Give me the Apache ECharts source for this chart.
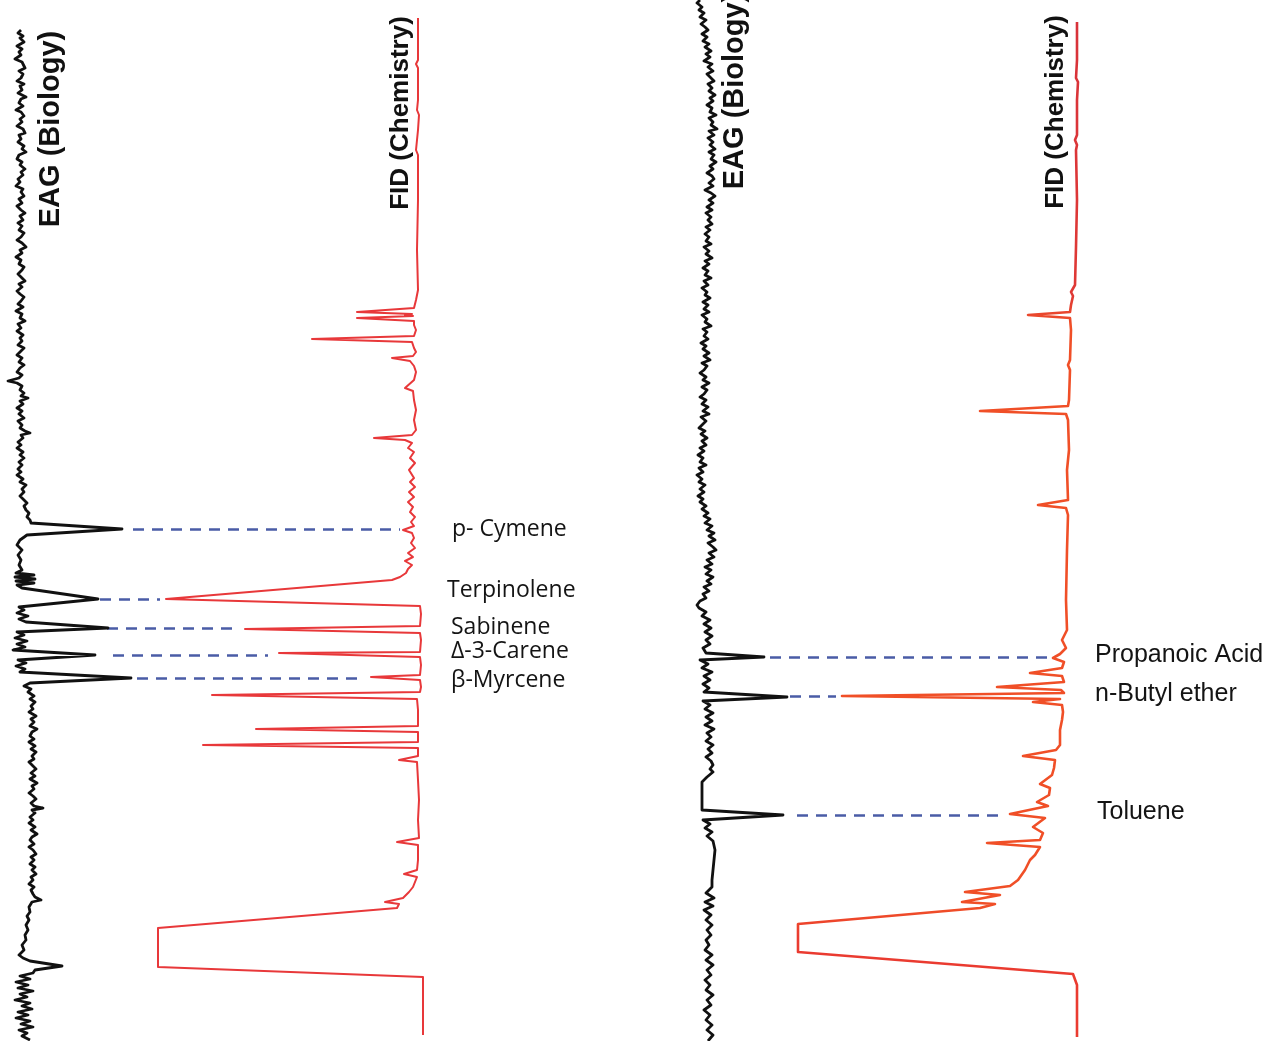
<!DOCTYPE html>
<html>
<head>
<meta charset="utf-8">
<title>GC-EAD</title>
<script src="https://cdn.jsdelivr.net/npm/echarts@6/dist/echarts.min.js"></script>
<style>
  html, body { margin: 0; padding: 0; background: #ffffff; }
  #chart { width: 1281px; height: 1041px; }
</style>
</head>
<body>
<div id="chart"></div>
<script>
// Each trace is a list of [signal, retentionTime] pairs; time runs down the page,
// signal deflections point sideways.

// Left run: antenna response (EAG)
const eagLeft = [
  [21,30],[18,33],[23,36],[20,38],[24,42],[17,46],[22,49],[19,52],[21,55],[15,59],
  [22,62],[20,64],[25,68],[19,71],[23,74],[21,78],[17,81],[24,84],[20,86],[22,90],
  [18,93],[26,97],[21,99],[19,103],[23,106],[16,110],[21,112],[24,116],[20,119],[22,122],
  [17,126],[23,129],[25,133],[19,135],[21,139],[18,142],[24,146],[22,149],[26,152],[19,155],
  [17,159],[22,162],[20,165],[25,169],[21,172],[23,175],[18,179],[20,182],[16,186],[23,189],
  [21,192],[24,196],[19,199],[22,203],[17,206],[21,210],[25,213],[20,216],[23,220],[18,223],
  [22,226],[19,230],[24,233],[21,237],[17,240],[22,243],[26,247],[20,250],[22,253],[16,257],
  [21,260],[19,264],[24,267],[22,270],[18,274],[21,277],[25,281],[19,284],[22,287],[17,291],
  [20,294],[24,297],[21,301],[18,304],[23,307],[16,311],[22,314],[20,318],[25,321],[18,324],
  [21,328],[17,331],[23,335],[20,338],[22,341],[18,345],[24,348],[21,351],[17,355],[22,358],
  [19,362],[24,365],[20,368],[17,372],[22,375],[19,378],[8,381],[17,383],[22,386],[20,390],
  [24,393],[21,396],[28,398],[20,401],[23,404],[17,408],[22,411],[19,414],[24,418],[18,421],
  [22,425],[20,428],[25,431],[30,433],[21,435],[23,438],[18,442],[21,445],[17,448],[23,452],
  [20,455],[24,458],[19,462],[22,465],[18,469],[21,472],[17,475],[23,479],[20,482],[26,485],
  [22,489],[24,492],[20,496],[23,499],[27,503],[24,506],[26,510],[29,513],[27,517],[30,520],
  [31,523],[122,529],[27,535],[20,540],[17,545],[22,550],[18,555],[21,560],[19,565],[22,570],
  [16,573],[34,575],[15,577],[35,579],[16,581],[34,583],[17,585],[22,588],[98,599],[19,607],
  [24,610],[17,613],[28,616],[19,619],[26,622],[24,624],[108,628],[17,632],[24,635],[15,638],
  [27,641],[17,644],[25,647],[13,650],[95,655],[18,660],[26,663],[16,666],[25,669],[20,672],
  [131,678],[30,683],[24,686],[31,689],[28,692],[34,696],[30,699],[35,702],[31,706],[33,709],
  [29,712],[36,716],[31,719],[34,722],[30,726],[37,729],[32,732],[30,736],[34,739],[29,742],
  [35,746],[31,749],[36,752],[32,756],[34,759],[29,762],[33,766],[36,769],[31,773],[35,776],
  [30,779],[37,783],[32,786],[34,789],[29,793],[33,796],[36,799],[31,803],[34,806],[43,808],
  [32,810],[35,813],[30,817],[33,820],[29,823],[35,827],[31,830],[37,834],[32,837],[30,840],
  [34,844],[29,847],[33,850],[36,854],[31,857],[34,860],[30,864],[35,867],[32,870],[36,874],
  [31,877],[33,880],[29,884],[34,887],[31,890],[33,894],[35,897],[41,900],[32,902],[29,907],
  [30,912],[27,916],[29,920],[26,925],[28,930],[25,935],[26,940],[22,945],[24,950],[19,955],
  [23,958],[30,961],[62,966],[35,970],[33,973],[20,976],[30,979],[16,982],[28,985],[18,988],
  [33,991],[20,994],[27,997],[15,1000],[30,1003],[22,1006],[32,1009],[18,1012],[28,1015],[16,1018],
  [30,1021],[21,1024],[33,1027],[19,1030],[27,1033],[22,1036],[30,1040]
];

// Left run: flame ionisation detector (FID)
const fidLeft = [
  [418,18],[418,60],[416,64],[418,68],[418,100],[417,110],[419,115],[418,130],[416,150],[418,155],
  [418,200],[417,250],[418,290],[416,300],[414,308],[357,312],[412,314],[405,315],[413,316],[357,318],
  [414,321],[414,325],[416,330],[414,336],[312,339],[412,342],[414,348],[416,352],[413,356],[392,358],
  [410,361],[414,366],[416,372],[414,380],[405,388],[413,391],[414,400],[416,410],[414,420],[416,430],
  [412,435],[374,438],[405,440],[412,443],[408,448],[414,452],[410,458],[415,463],[409,470],[414,478],
  [410,482],[415,487],[409,492],[414,497],[408,502],[413,507],[410,512],[415,517],[411,522],[414,526],
  [403,530],[412,533],[414,538],[411,543],[415,548],[408,553],[413,557],[405,561],[412,565],[408,569],
  [406,573],[400,577],[392,580],[166,599],[420,606],[421,614],[420,626],[245,629],[420,633],[421,640],
  [420,652],[279,653],[420,657],[421,665],[420,675],[371,677],[420,680],[421,687],[420,692],[212,695],
  [417,699],[418,710],[418,726],[256,729],[418,732],[418,742],[203,745],[418,748],[418,756],[399,760],
  [417,762],[418,780],[419,800],[418,820],[419,838],[397,842],[418,845],[418,860],[417,870],[404,874],
  [417,877],[413,887],[409,892],[403,898],[385,902],[399,904],[397,908],[158,928],[158,967],[423,977],
  [423,1035]
];

// Right run: antenna response (EAG)
const eagRight = [
  [700,0],[697,3],[702,7],[699,10],[704,13],[700,17],[706,20],[701,24],[705,27],[708,30],
  [702,34],[707,37],[703,41],[709,44],[705,47],[711,51],[706,54],[710,57],[704,61],[712,64],
  [708,67],[713,71],[707,74],[711,78],[714,81],[708,84],[712,88],[709,91],[715,95],[710,98],
  [713,101],[707,105],[712,108],[710,112],[716,115],[709,118],[713,122],[711,125],[717,129],[709,131],
  [714,135],[708,138],[713,142],[710,145],[715,149],[709,152],[714,155],[711,159],[716,162],[710,166],
  [713,169],[707,173],[712,176],[714,179],[709,183],[713,186],[705,190],[711,193],[715,196],[709,200],
  [713,203],[707,207],[712,210],[706,213],[711,217],[708,220],[712,224],[706,227],[710,230],[705,234],
  [709,237],[706,241],[711,244],[704,247],[709,251],[706,254],[712,258],[705,261],[709,264],[703,268],
  [708,271],[705,275],[711,278],[704,281],[708,285],[702,288],[707,292],[705,295],[710,298],[703,302],
  [708,305],[704,309],[709,312],[702,315],[707,319],[705,322],[711,326],[703,329],[707,332],[704,336],
  [708,339],[701,343],[706,346],[703,349],[709,353],[704,356],[710,360],[702,363],[707,366],[704,370],
  [700,373],[706,377],[703,380],[709,383],[702,387],[707,390],[704,394],[700,397],[706,400],[702,404],
  [708,407],[703,411],[709,414],[701,417],[706,421],[703,424],[699,428],[705,431],[701,434],[707,438],
  [702,441],[706,445],[700,448],[704,451],[698,455],[703,458],[700,462],[706,465],[699,468],[703,472],
  [697,475],[702,479],[699,482],[705,485],[700,489],[704,492],[698,496],[703,499],[700,502],[706,506],
  [702,509],[708,513],[704,516],[710,519],[705,523],[712,526],[707,530],[714,533],[709,536],[715,540],
  [708,543],[713,547],[716,550],[709,553],[714,557],[707,560],[712,564],[705,567],[711,570],[706,574],
  [713,577],[707,581],[711,584],[704,587],[709,591],[703,594],[706,598],[700,601],[697,605],[699,608],
  [706,612],[702,616],[710,620],[704,624],[711,628],[705,632],[712,636],[706,640],[710,644],[703,648],
  [706,653],[764,657],[700,660],[708,664],[702,668],[712,672],[704,676],[710,680],[703,684],[709,688],
  [704,692],[787,697],[703,701],[710,705],[705,709],[713,713],[706,717],[712,721],[705,725],[714,729],
  [707,733],[711,737],[706,741],[713,745],[708,749],[712,753],[706,757],[711,761],[713,765],[710,769],
  [713,772],[707,777],[702,782],[702,790],[702,800],[702,810],[783,815],[703,820],[710,824],[705,828],
  [712,832],[707,836],[713,841],[715,850],[714,860],[713,870],[712,880],[712,887],[706,893],[714,898],
  [705,902],[713,906],[704,910],[711,915],[706,920],[712,925],[707,930],[711,935],[706,940],[709,945],
  [705,950],[712,955],[706,960],[713,965],[707,970],[711,975],[705,980],[710,985],[706,990],[713,995],
  [707,1000],[711,1005],[704,1010],[710,1015],[706,1020],[712,1025],[707,1030],[713,1035],[708,1041]
];

// Right run: flame ionisation detector (FID)
const fidRight = [
  [1077,22],[1077,60],[1076,78],[1078,82],[1077,100],[1077,135],[1075,140],[1077,145],[1076,150],[1077,200],
  [1076,247],[1075,285],[1071,292],[1073,296],[1071,305],[1070,312],[1028,315],[1070,318],[1071,330],[1070,360],
  [1068,365],[1070,370],[1069,400],[1068,406],[980,411],[1066,414],[1068,420],[1069,450],[1067,470],[1068,500],
  [1038,505],[1066,508],[1068,515],[1067,550],[1066,600],[1067,630],[1062,640],[1066,648],[1060,654],[1053,658],
  [1064,662],[1062,668],[1030,673],[1062,676],[1064,682],[997,687],[1061,690],[1064,693],[842,696],[1060,699],
  [1033,702],[1062,705],[1063,712],[1062,720],[1060,730],[1060,745],[1056,750],[1023,756],[1055,760],[1054,768],
  [1052,775],[1040,784],[1050,788],[1049,795],[1037,802],[1048,806],[1010,814],[1045,818],[1047,820],[1033,827],
  [1043,833],[1040,840],[987,843],[1040,847],[1035,855],[1030,860],[1025,870],[1018,880],[1010,886],[965,892],
  [1000,895],[962,902],[995,904],[980,908],[798,924],[798,952],[1073,974],[1077,985],[1077,1037]
];

// Matched peaks: [eagApex, fidApex, time]
const linksLeft = [[133,400,529],[100,160,599],[107,236,628],[113,268,655],[137,362,678]];
const linksRight = [[770,1048,657],[790,836,696],[797,1003,815]];

// Compound names with label anchor [x, time]
const namesLeft = ['p- Cymene', 'Terpinolene', 'Sabinene', 'Δ-3-Carene', 'β-Myrcene'];
const namePosLeft = [[452,529],[447,590],[451,627],[451,651],[451,680]];
const namesRight = ['Propanoic Acid', 'n-Butyl ether', 'Toluene'];
const namePosRight = [[1095,655],[1095,694],[1097,812]];

// Trace titles: [text, x, centre time]
const traceTitles = [
  ['EAG (Biology)', 51, 129],
  ['FID (Chemistry)', 401, 113],
  ['EAG (Biology)', 735, 91],
  ['FID (Chemistry)', 1056, 112]
];

const chart = echarts.init(document.getElementById('chart'), null, { renderer: 'canvas' });

function linkSeries(links) {
  return links.map(l => ({ coords: [[l[0], l[2]], [l[1], l[2]]] }));
}

function nameSeries(names, pos, font, size) {
  return {
    type: 'scatter',
    symbolSize: 0,
    silent: true,
    itemStyle: { opacity: 1 },
    data: names.map((n, i) => ({ name: n, value: pos[i] })),
    label: {
      show: true,
      position: 'right',
      distance: 0,
      formatter: p => p.name,
      color: '#141414',
      fontFamily: font,
      fontSize: size
    }
  };
}

const dashStyle = { color: '#4a5ca6', width: 2.5, type: [11, 8], opacity: 1 };

const option = {
  animation: false,
  backgroundColor: '#ffffff',
  grid: { left: 0, right: 0, top: 0, bottom: 0 },
  xAxis: { type: 'value', min: 0, max: 1281, show: false },
  yAxis: { type: 'value', min: 0, max: 1041, inverse: true, show: false },
  series: [
    {
      type: 'line', data: eagLeft, showSymbol: false, symbol: 'none',
      lineStyle: { color: '#111', width: 2.8, join: 'round' }
    },
    {
      type: 'line', data: eagRight, showSymbol: false, symbol: 'none',
      lineStyle: { color: '#111', width: 2.8, join: 'round' }
    },
    {
      type: 'line', data: fidLeft, showSymbol: false, symbol: 'none',
      lineStyle: { color: '#e8383a', width: 2, join: 'round' }
    },
    {
      type: 'line', data: fidRight, showSymbol: false, symbol: 'none',
      lineStyle: {
        width: 2.6, join: 'round',
        color: new echarts.graphic.LinearGradient(0, 0, 0, 1, [
          { offset: 0, color: '#d8323a' },
          { offset: 0.27, color: '#df3935' },
          { offset: 0.3, color: '#f04f27' },
          { offset: 0.87, color: '#f04f27' },
          { offset: 0.9, color: '#ea3b30' },
          { offset: 1, color: '#ea3b30' }
        ])
      }
    },
    {
      type: 'lines', coordinateSystem: 'cartesian2d', silent: true,
      lineStyle: dashStyle,
      data: linkSeries(linksLeft.concat(linksRight))
    },
    nameSeries(namesLeft, namePosLeft, 'Open Sans', 23),
    nameSeries(namesRight, namePosRight, 'Liberation Sans', 25)
  ],
  graphic: traceTitles.map(t => ({
    type: 'text',
    x: t[1], y: t[2],
    rotation: Math.PI / 2,
    silent: true,
    style: {
      text: t[0],
      fill: '#111',
      font: 'bold ' + (t[0].startsWith('EAG') ? 29 : 26) + 'px "Liberation Sans", Arial, sans-serif',
      textAlign: 'center',
      textVerticalAlign: 'middle'
    }
  }))
};

chart.setOption(option);
</script>
</body>
</html>
